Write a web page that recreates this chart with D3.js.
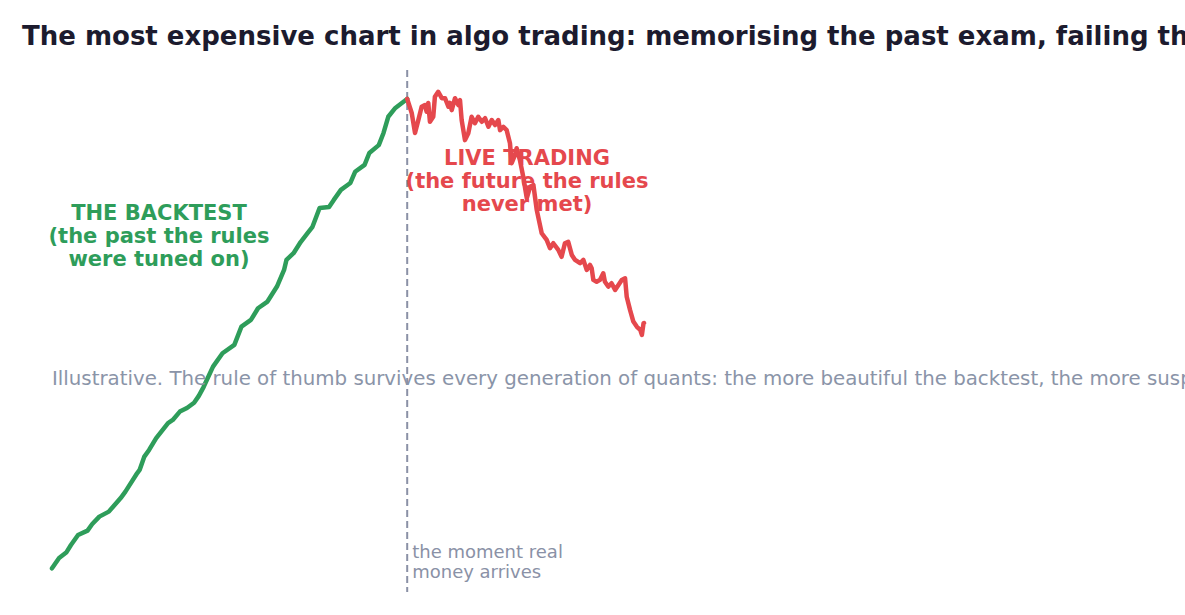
<!DOCTYPE html>
<html>
<head>
<meta charset="utf-8">
<script src="https://cdn.jsdelivr.net/npm/d3@7"></script>
<style>
  body { margin: 0; background: #fff; overflow: hidden; }
  text { font-family: "DejaVu Sans", sans-serif; }
</style>
</head>
<body>
<div id="chart"></div>
<script>
// backtest equity curve (in-sample)
const backtestDays = [0, 3, 6, 8, 11, 15, 17, 20, 24, 29, 31, 36, 37, 39, 41, 44, 49, 51, 54, 57,
  60, 62, 64, 68, 72, 77, 80, 84, 87, 91, 95, 98, 99, 102, 105, 108, 110, 113, 117, 119,
  122, 126, 128, 132, 134, 138, 140, 142, 145, 149, 150];
const backtestEquity = [100, 104.3, 106.6, 109.8, 114.0, 115.8, 118.6, 121.7, 123.8, 129.5,
  132.2, 140.0, 141.3, 146.9, 149.7, 154.7, 161.0, 162.3, 165.8, 167.3, 169.5, 172.4, 176.1,
  184.7, 190.3, 193.8, 201.5, 204.3, 209.2, 212.0, 218.3, 225.3, 229.5, 232.3, 237.0, 240.8,
  243.4, 251.3, 251.7, 254.7, 258.9, 261.8, 266.5, 269.4, 274.4, 277.7, 282.8, 289.6, 293.3,
  296.3, 297.1];

// live trading equity curve (out-of-sample)
const liveDays = [150, 151.9, 153.3, 154.7, 156.1, 157.5, 158.2, 158.9, 159.6, 161.0, 161.7,
  163.1, 164.6, 166.0, 167.4, 168.1, 168.8, 170.2, 171.6, 172.3, 173.0, 174.4, 175.8, 177.2,
  178.6, 180.0, 181.5, 182.9, 184.3, 185.7, 187.1, 188.5, 189.2, 190.6, 192.0, 193.4, 194.1,
  195.5, 196.2, 197.6, 199.0, 200.5, 201.9, 203.3, 204.7, 206.8, 208.9, 210.3, 211.7, 213.8,
  215.2, 216.6, 218.0, 219.5, 220.9, 223.0, 224.4, 225.8, 227.2, 227.9, 228.6, 230.0, 231.4,
  232.8, 233.5, 234.9, 236.3, 237.8, 239.2, 240.6, 242.0, 242.7, 244.1, 245.5, 247.0, 248.4,
  249.1, 249.8, 250];
const liveEquity = [297.1, 291.2, 282.8, 288.2, 293.8, 294.5, 291.7, 295.4, 287.5, 289.6, 298.0,
  300.1, 297.4, 297.4, 293.8, 295.4, 292.4, 297.4, 294.5, 296.6, 288.2, 279.8, 282.7, 289.6,
  286.9, 289.6, 287.5, 289.0, 285.4, 288.2, 286.1, 288.2, 284.0, 285.4, 284.0, 278.5, 270.1,
  273.5, 276.4, 271.4, 264.4, 255.4, 260.2, 260.9, 250.5, 240.7, 237.9, 234.4, 236.5, 233.7,
  230.8, 236.5, 237.1, 231.6, 229.5, 228.1, 229.5, 225.3, 227.4, 226.0, 221.1, 220.3, 221.1,
  223.9, 220.3, 218.3, 219.7, 216.9, 219.0, 221.1, 221.8, 214.0, 208.5, 203.6, 201.4, 200.1,
  198.0, 202.9, 203.0];

const goLiveDay = 150;

const titleText = "The most expensive chart in algo trading: memorising the past exam, failing the real one";
const subtitleText = "Illustrative. The rule of thumb survives every generation of quants: the more beautiful the backtest, the more suspicious you should be.";
const backtestLabel = ["THE BACKTEST", "(the past the rules", "were tuned on)"];
const liveLabel = ["LIVE TRADING", "(the future the rules", "never met)"];
const dividerLabel = ["the moment real", "money arrives"];

const width = 1185, height = 615;
const green = "#2e9d5a", red = "#e5484d", grey = "#8a91a6";

const svg = d3.select("#chart").append("svg")
  .attr("width", width)
  .attr("height", height)
  .attr("viewBox", `0 0 ${width} ${height}`);

// hidden axes area, like a spine-less plot
const x = d3.scaleLinear().domain([0, 250]).range([52, 644]);
const y = d3.scaleLinear().domain([100, 300]).range([568.3, 92]);

const backtest = backtestDays.map((d, i) => ({ day: d, eq: backtestEquity[i] }));
const live = liveDays.map((d, i) => ({ day: d, eq: liveEquity[i] }));

const line = d3.line()
  .x(d => x(d.day))
  .y(d => y(d.eq));

svg.append("line")
  .attr("x1", x(goLiveDay)).attr("x2", x(goLiveDay))
  .attr("y1", 70).attr("y2", 592)
  .attr("stroke", grey)
  .attr("stroke-width", 2)
  .attr("stroke-dasharray", "7,4");

svg.append("path")
  .datum(backtest)
  .attr("d", line)
  .attr("fill", "none")
  .attr("stroke", green)
  .attr("stroke-width", 4.5)
  .attr("stroke-linejoin", "round")
  .attr("stroke-linecap", "round");

svg.append("path")
  .datum(live)
  .attr("d", line)
  .attr("fill", "none")
  .attr("stroke", red)
  .attr("stroke-width", 4.5)
  .attr("stroke-linejoin", "round")
  .attr("stroke-linecap", "round");

// labels
function multiline(lines, px, py, lh, opts) {
  let t = svg.append("text")
    .attr("x", px).attr("y", py)
    .attr("text-anchor", opts.anchor)
    .attr("font-size", opts.size)
    .attr("font-weight", opts.weight)
    .attr("fill", opts.fill);
  lines.forEach(function(l, i) {
    t.append("tspan").attr("x", px).attr("dy", i === 0 ? 0 : lh).text(l);
  });
}

multiline(backtestLabel, 159, 220, 23, { anchor: "middle", size: "21px", weight: "bold", fill: green });
multiline(liveLabel, 527, 165, 23, { anchor: "middle", size: "21px", weight: "bold", fill: red });
multiline(dividerLabel, x(goLiveDay) + 5, 558, 20, { anchor: "start", size: "18px", weight: "normal", fill: grey });

svg.append("text")
  .attr("x", 52).attr("y", 385)
  .attr("font-size", "19.8px")
  .attr("fill", "#8a94a8")
  .text(subtitleText);

svg.append("text")
  .attr("x", 22).attr("y", 45)
  .attr("font-size", "26px")
  .attr("font-weight", "bold")
  .attr("fill", "#1c1b2e")
  .text(titleText);
</script>
</body>
</html>
